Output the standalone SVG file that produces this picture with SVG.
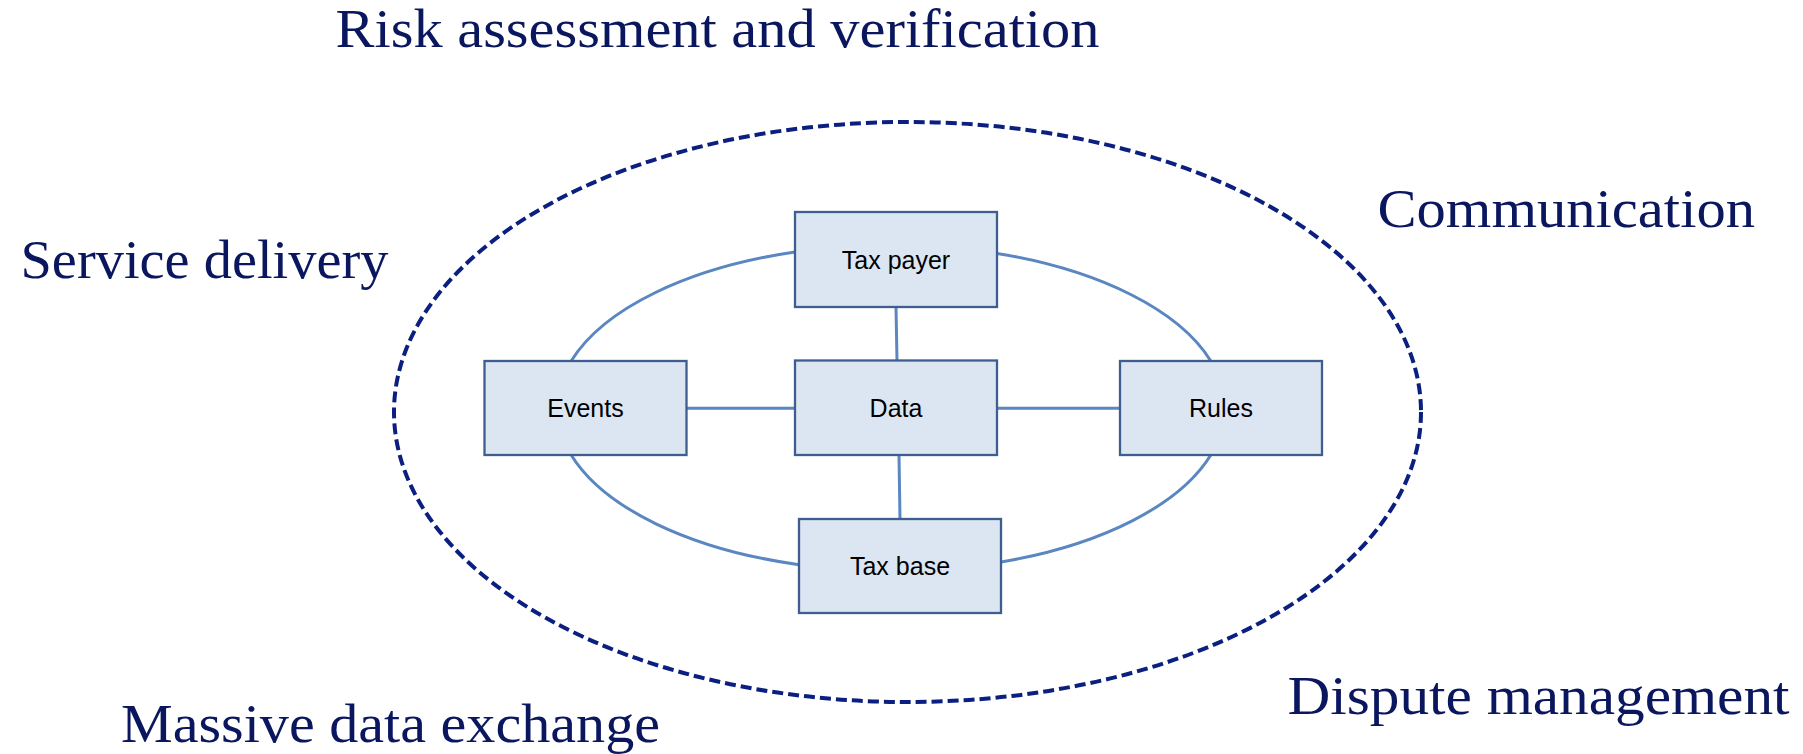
<svg xmlns="http://www.w3.org/2000/svg" width="1803" height="754" viewBox="0 0 1803 754">
<style>
.label{font-family:"Liberation Serif","Times New Roman",serif;font-size:54px;fill:#0a165e}
.box rect{fill:#dce6f2;stroke:#3d5e8e;stroke-width:2.3}
.box text{font-family:"Liberation Sans",Arial,sans-serif;font-size:25px;fill:#000;text-anchor:middle}
.conn{fill:none;stroke:#5a87c1;stroke-width:3}
.outer{fill:none;stroke:#0b1f80;stroke-width:4;stroke-dasharray:11 5}
</style>
<rect width="1803" height="754" fill="#fff"/>
<g id="labels">
<text class="label" x="335.5" y="47" textLength="764" lengthAdjust="spacingAndGlyphs">Risk assessment and verification</text>
<text class="label" x="20.5" y="278" textLength="368" lengthAdjust="spacingAndGlyphs">Service delivery</text>
<text class="label" x="1377.5" y="227" textLength="377.5" lengthAdjust="spacingAndGlyphs">Communication</text>
<text class="label" x="121" y="742" textLength="539" lengthAdjust="spacingAndGlyphs">Massive data exchange</text>
<text class="label" x="1287.5" y="713.5" textLength="502" lengthAdjust="spacingAndGlyphs">Dispute management</text>
</g>
<g id="boundary">
<ellipse class="outer" cx="907.5" cy="412" rx="513.5" ry="290"/>
</g>
<g id="connectors">
<path class="conn" d="M 571.2 361 A 334 163 0 0 1 795 252"/>
<path class="conn" d="M 997 253.4 A 334 163 0 0 1 1210.8 361"/>
<path class="conn" d="M 1210.8 455 A 334 163 0 0 1 1001 562"/>
<path class="conn" d="M 799 564.7 A 334 163 0 0 1 571.2 455"/>
<line class="conn" x1="686.5" y1="408.3" x2="795" y2="408.3"/>
<line class="conn" x1="997" y1="408.3" x2="1120" y2="408.3"/>
<line class="conn" x1="896" y1="307" x2="897" y2="360.5"/>
<line class="conn" x1="899" y1="455" x2="900" y2="519"/>
</g>
<g id="tax-payer" class="box"><rect x="795" y="212" width="202" height="95"/><text x="896" y="268.5">Tax payer</text></g>
<g id="events" class="box"><rect x="484.5" y="361" width="202" height="94"/><text x="585.5" y="417">Events</text></g>
<g id="data" class="box"><rect x="795" y="360.5" width="202" height="94.5"/><text x="896" y="417">Data</text></g>
<g id="rules" class="box"><rect x="1120" y="361" width="202" height="94"/><text x="1221" y="417">Rules</text></g>
<g id="tax-base" class="box"><rect x="799" y="519" width="202" height="94"/><text x="900" y="575">Tax base</text></g>
</svg>
